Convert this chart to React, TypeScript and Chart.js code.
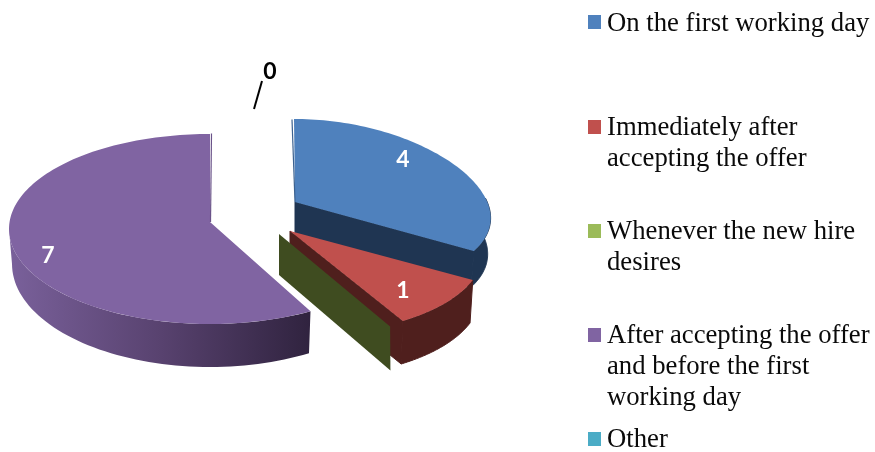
import { useEffect, useRef } from "react";
import { Chart, registerables } from "chart.js";

Chart.register(...registerables);

// Survey answers, in drawing order around the pie.
const categories = [
  "On the first working day",
  "Immediately after accepting the offer",
  "Whenever the new hire desires",
  "After accepting the offer and before the first working day",
  "Other",
];
const responses = [4, 1, 0, 7, 0];
const legendLines = [
  ["On the first working day"],
  ["Immediately after", "accepting the offer"],
  ["Whenever the new hire", "desires"],
  ["After accepting the offer", "and before the first", "working day"],
  ["Other"],
];
const topColors = ["#4f81bd", "#c0504d", "#9bbb59", "#8064a2", "#4bacc6"];
const sideColors = ["#1f3552", "#4f1f1d", "#3f4c20", "#5a4672", "#2a6a7c"];

// Legend baselines for each line of each entry.
const legendBaselines = [[31], [135, 166], [239, 270], [343, 374, 405], [447]];
const swatchTops = [15, 120, 224, 328, 432];

// How each exploded slice sits on the tilted plane.
type Slice = {
  ax: number; ay: number; cx: number; cy: number;
  rx: number; ry: number; k: number; depth: number;
  label?: [number, number];
};
const sliceLayout: Slice[] = [
  { ax: 295, ay: 202, cx: 294, cy: 207, rx: 195, ry: 88, k: 0.13, depth: 36, label: [403, 160] },
  { ax: 290, ay: 231, cx: 290, cy: 224, rx: 191, ry: 112, k: 0.21, depth: 43, label: [403, 291] },
  { ax: 279, ay: 234, cx: 279, cy: 226, rx: 188, ry: 116, k: 0.21, depth: 44 },
  { ax: 210, ay: 222, cx: 210, cy: 229, rx: 201, ry: 95, k: 0, depth: 43, label: [48, 256] },
  { ax: 0, ay: 0, cx: 0, cy: 0, rx: 0, ry: 0, k: 0, depth: 0, label: [270, 72] },
];
const leaderLine = [[262, 81], [254, 109]];

function rim(s: Slice, t: number): [number, number] {
  return [s.cx + s.rx * Math.sin(t) * (1 - s.k * Math.cos(t)), s.cy - s.ry * Math.cos(t)];
}

// The lower edge of the slab sits slightly inward, as seen from above.
function lower(s: Slice, p: [number, number], d: number): [number, number] {
  return [s.cx + (p[0] - s.cx) * 0.985, p[1] + d];
}

const pie3d = {
  id: "pie3d",
  beforeDatasetsDraw(chart: any) {
    const ctx = chart.ctx as CanvasRenderingContext2D;
    const arcs = chart.getDatasetMeta(0).data as any[];
    const angles = arcs.map((a) => [a.startAngle + Math.PI / 2, a.endAngle + Math.PI / 2]);
    const order = [3, 0, 1, 2];
    ctx.save();
    ctx.lineJoin = "round";

    for (const i of order) {
      const s = sliceLayout[i];
      const [t0, t1] = angles[i];
      const side = sideColors[i];

      // Zero answers collapse to a bare cut wall.
      if (t1 - t0 < 1e-6) {
        const p = rim(s, t0);
        const q = lower(s, p, s.depth);
        ctx.beginPath();
        ctx.moveTo(s.ax, s.ay);
        ctx.lineTo(p[0], p[1]);
        ctx.lineTo(q[0] + 2, q[1]);
        ctx.lineTo(s.ax, s.ay + s.depth - 3);
        ctx.closePath();
        ctx.fillStyle = side;
        ctx.fill();
        continue;
      }

      // Straight cut face at the clockwise end of the slice.
      if (i !== 3) {
        const p = rim(s, t1);
        const q = lower(s, p, s.depth);
        ctx.beginPath();
        ctx.moveTo(s.ax, s.ay);
        ctx.lineTo(p[0], p[1]);
        ctx.lineTo(q[0], q[1]);
        ctx.lineTo(s.ax, s.ay + s.depth);
        ctx.closePath();
        ctx.fillStyle = side;
        ctx.strokeStyle = side;
        ctx.lineWidth = 1;
        ctx.fill();
        ctx.stroke();
      }

      // Curved outer wall, limited to the part facing the viewer.
      const w0 = Math.max(t0, Math.PI / 2 - 0.1);
      const w1 = Math.min(t1, (3 * Math.PI) / 2);
      if (w1 > w0) {
        const steps = 60;
        const top: [number, number][] = [];
        const bottom: [number, number][] = [];
        for (let n = 0; n <= steps; n++) {
          const t = w0 + ((w1 - w0) * n) / steps;
          const p = rim(s, t);
          const d = i === 3 ? 35 + 8 * Math.max(0, -Math.cos(t)) : s.depth;
          top.push(p);
          bottom.push(lower(s, p, d));
        }
        ctx.beginPath();
        top.forEach((p, n) => (n ? ctx.lineTo(p[0], p[1]) : ctx.moveTo(p[0], p[1])));
        bottom.reverse().forEach((p) => ctx.lineTo(p[0], p[1]));
        ctx.closePath();
        if (i === 3) {
          const g = ctx.createLinearGradient(12, 0, 310, 0);
          g.addColorStop(0, "#79609a");
          g.addColorStop(0.5, "#58426f");
          g.addColorStop(1, "#30233f");
          ctx.fillStyle = g;
          ctx.fill();
        } else {
          ctx.fillStyle = side;
          ctx.strokeStyle = side;
          ctx.lineWidth = 1;
          ctx.fill();
          ctx.stroke();
        }
      }

      // Top face.
      ctx.beginPath();
      ctx.moveTo(s.ax, s.ay);
      const steps = Math.ceil((t1 - t0) * 40);
      for (let n = 0; n <= steps; n++) {
        const p = rim(s, t0 + ((t1 - t0) * n) / steps);
        ctx.lineTo(p[0], p[1]);
      }
      ctx.closePath();
      ctx.fillStyle = topColors[i];
      ctx.fill();
    }

    // Thin shaded edges along the vertical cuts at twelve o'clock.
    ctx.lineWidth = 1.2;
    ctx.strokeStyle = "#3c618f";
    ctx.beginPath();
    ctx.moveTo(292, 119.5);
    ctx.lineTo(295, 202);
    ctx.stroke();
    ctx.strokeStyle = "#6a5389";
    ctx.beginPath();
    ctx.moveTo(211.5, 133.5);
    ctx.lineTo(210.5, 222);
    ctx.stroke();

    // Value labels.
    ctx.textAlign = "center";
    ctx.textBaseline = "middle";
    ctx.font = "bold 23px Lato";
    sliceLayout.forEach((s, i) => {
      if (!s.label) return;
      ctx.fillStyle = responses[i] === 0 ? "#000000" : "#ffffff";
      ctx.fillText(String(responses[i]), s.label[0], s.label[1]);
    });
    ctx.strokeStyle = "#000000";
    ctx.lineWidth = 2;
    ctx.beginPath();
    ctx.moveTo(leaderLine[0][0], leaderLine[0][1]);
    ctx.lineTo(leaderLine[1][0], leaderLine[1][1]);
    ctx.stroke();

    // Legend column.
    ctx.textAlign = "left";
    ctx.textBaseline = "alphabetic";
    ctx.font = "26.7px 'Liberation Serif'";
    legendLines.forEach((lines, i) => {
      ctx.fillStyle = topColors[i];
      ctx.fillRect(588, swatchTops[i], 13, 14);
      ctx.fillStyle = "#0a0a0a";
      lines.forEach((line, n) => ctx.fillText(line, 607, legendBaselines[i][n]));
    });

    ctx.restore();
    return false;
  },
};

export default function App() {
  const canvasRef = useRef<HTMLCanvasElement | null>(null);

  useEffect(() => {
    if (!canvasRef.current) return;
    const chart = new Chart(canvasRef.current, {
      type: "pie",
      data: {
        labels: categories,
        datasets: [{ data: responses, backgroundColor: topColors, borderWidth: 0 }],
      },
      options: {
        animation: false,
        responsive: false,
        devicePixelRatio: 1,
        plugins: { legend: { display: false }, tooltip: { enabled: false } },
      },
      plugins: [pie3d],
    } as any);
    return () => chart.destroy();
  }, []);

  return (
    <div style={{ position: "fixed", left: 0, top: 0, width: 875, height: 452, background: "#ffffff" }}>
      <canvas ref={canvasRef} width={875} height={452} style={{ display: "block" }} />
    </div>
  );
}
